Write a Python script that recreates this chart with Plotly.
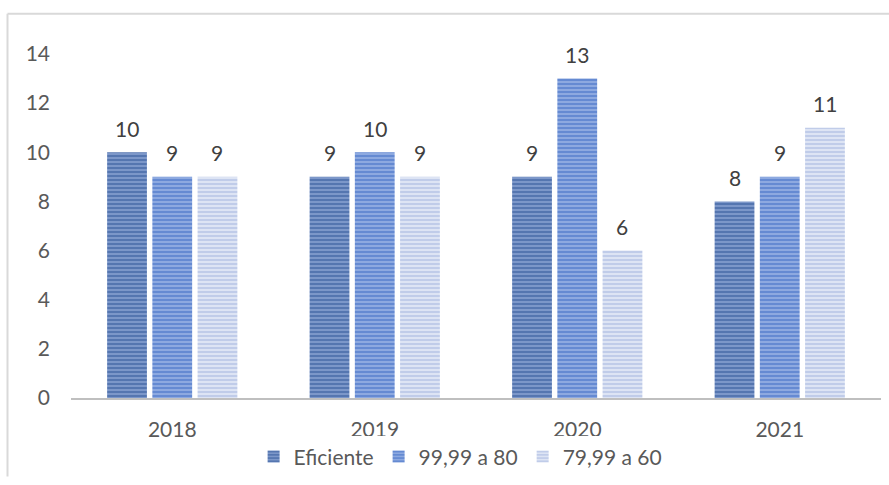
import plotly.graph_objects as go

years = ["2018", "2019", "2020", "2021"]
series_names = ["Eficiente", "99,99 a 80", "79,99 a 60"]
eficiente = [10, 9, 9, 8]
de99a80 = [9, 10, 13, 9]
de79a60 = [9, 9, 6, 11]
y_ticks = [0, 2, 4, 6, 8, 10, 12, 14]

values = [eficiente, de99a80, de79a60]
fg_colors = ["#2E5597", "#3D6CC4", "#A3B3DE"]
bg_colors = ["#7C97C9", "#8DA9E0", "#DDE4F4"]

W, H = 889, 485
L, R, T, B = 71, 8, 54, 80
FONT = "Lato"
FS = 21
BARGAP, GROUPGAP = 0.33, 0.12

pw = W - L - R
ph = H - T - B
def px_x(p):
    return (p - L) / pw
def px_y(p):
    return (H - B - p) / ph

fig = go.Figure()
for name, vals, fg, bg in zip(series_names, values, fg_colors, bg_colors):
    fig.add_trace(go.Bar(
        name=name, x=years, y=vals,
        marker=dict(color=bg, line=dict(width=0),
                    pattern=dict(shape="-", fgcolor=fg, bgcolor=bg, size=4, solidity=0.5, fillmode="overlay")),
    ))

# data labels above bars (category index + pixel offset of each bar within its group)
cat_px = pw / len(years)
slot_px = cat_px * (1 - BARGAP) / len(series_names)
annotations = []
for si, vals in enumerate(values):
    xshift = (si - (len(series_names) - 1) / 2) * slot_px
    for ci, v in enumerate(vals):
        annotations.append(dict(x=ci, y=v, text=str(v), showarrow=False, xref="x", yref="y",
                                xshift=xshift, yshift=24, yanchor="middle",
                                font=dict(size=FS, color="#404040", family=FONT)))

fig.update_layout(
    width=W, height=H,
    margin=dict(l=L, r=R, t=T, b=B),
    paper_bgcolor="white", plot_bgcolor="white",
    barmode="group", bargap=BARGAP, bargroupgap=GROUPGAP,
    font=dict(family=FONT, size=FS, color="#595959"),
    showlegend=True,
    legend=dict(orientation="h", x=0.481, xanchor="center", y=px_y(465), yanchor="middle",
                font=dict(size=FS, color="#595959", family=FONT), itemwidth=30, traceorder="normal",
                tracegroupgap=0),
    xaxis=dict(type="category", categoryorder="array", categoryarray=years,
               range=[-0.5, len(years) - 0.5],
               showline=True, linecolor="#BFBFBF", linewidth=2, ticks="", showgrid=False,
               ticklabelstandoff=12,
               tickfont=dict(size=FS, color="#595959", family=FONT)),
    yaxis=dict(range=[0, 14], tickvals=y_ticks, showgrid=False, zeroline=False,
               showline=False, ticks="", ticklabelstandoff=20,
               tickfont=dict(size=FS, color="#595959", family=FONT)),
    annotations=annotations,
    shapes=[
        dict(type="line", xref="paper", yref="paper", x0=px_x(7.5), x1=px_x(889), y0=px_y(13), y1=px_y(13),
             line=dict(color="#D9D9D9", width=2)),
        dict(type="line", xref="paper", yref="paper", x0=px_x(7.5), x1=px_x(7.5), y0=px_y(13), y1=px_y(485),
             line=dict(color="#D9D9D9", width=2)),
    ],
)

fig.write_html("out.html")
